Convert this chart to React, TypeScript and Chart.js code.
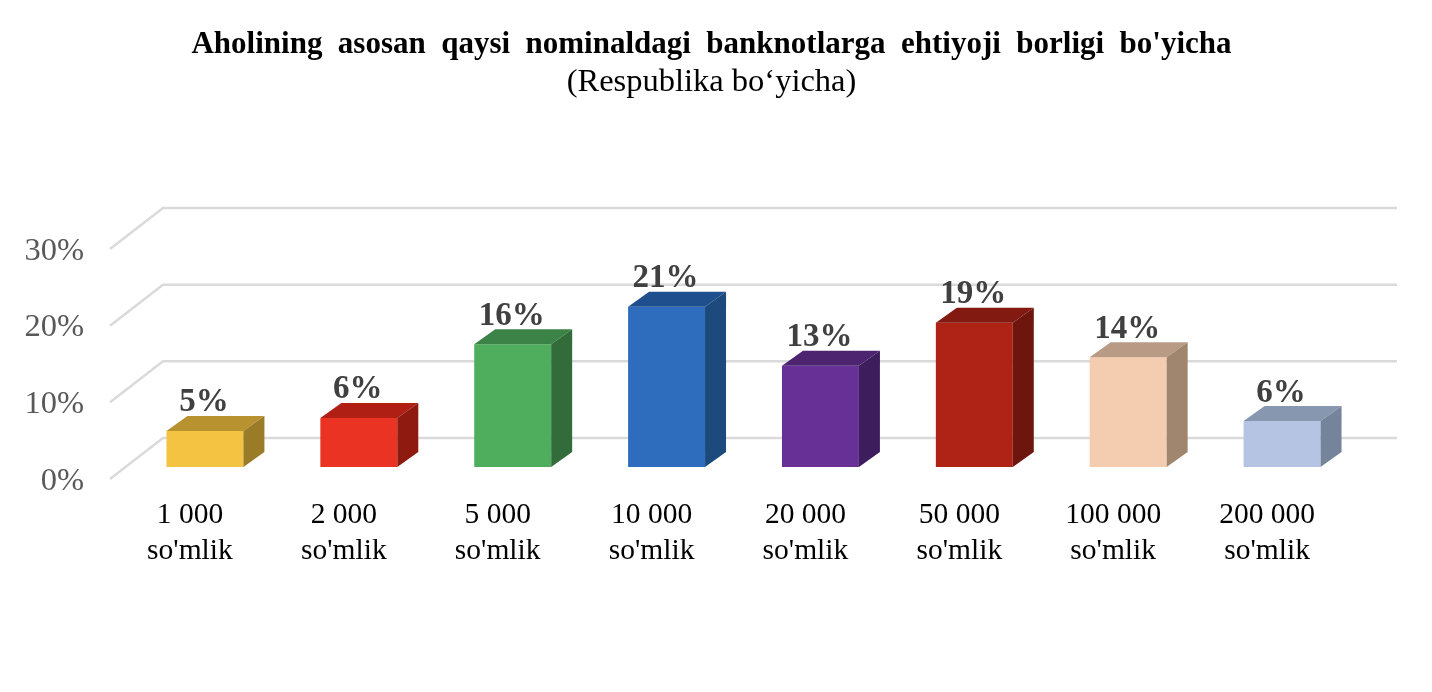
import React, { useEffect, useRef } from "react";
import { Chart, registerables } from "chart.js";

Chart.register(...registerables);

const titleText = "Aholining asosan qaysi nominaldagi banknotlarga ehtiyoji borligi bo'yicha";
const subtitleText = "(Respublika bo‘yicha)";
const categories = [
  ["1 000", "so'mlik"],
  ["2 000", "so'mlik"],
  ["5 000", "so'mlik"],
  ["10 000", "so'mlik"],
  ["20 000", "so'mlik"],
  ["50 000", "so'mlik"],
  ["100 000", "so'mlik"],
  ["200 000", "so'mlik"],
];
const values = [4.7, 6.4, 16.0, 20.9, 13.2, 18.8, 14.3, 6.0];
const frontColors = ["#F5C342", "#EA3323", "#4FAE5D", "#2E6DBD", "#663096", "#AF2317", "#F4CCAF", "#B4C4E2"];
const topColors = ["#B8922E", "#AF1F13", "#3B8346", "#1F4F8C", "#4C2470", "#831A11", "#B99A84", "#8897B0"];
const sideColors = ["#9A7B27", "#8F1A10", "#316C3A", "#1C4A7C", "#3E1D5C", "#6E150E", "#A0856F", "#76849B"];

const SERIF = "'Liberation Serif', 'Times New Roman', serif";
const DEPTH_X = 21;
const DEPTH_Y = 15;

const wallPlugin = {
  id: "wall",
  afterLayout(chart: any) {
    const block = chart.titleBlock;
    if (block && !block.__spaced) {
      const original = block.draw;
      block.draw = function (...args: any[]) {
        chart.ctx.wordSpacing = "7.7px";
        original.apply(this, args);
        chart.ctx.wordSpacing = "0px";
      };
      block.__spaced = true;
    }
  },
  beforeDatasetsDraw(chart: any) {
    const { ctx, chartArea } = chart;
    const y = chart.scales.y;
    ctx.save();
    ctx.strokeStyle = "#DADADA";
    ctx.lineWidth = 2.5;
    ctx.lineJoin = "round";
    y.ticks.forEach((t: any) => {
      const p = y.getPixelForValue(t.value);
      ctx.beginPath();
      ctx.moveTo(chartArea.left - 18, p + 12);
      ctx.lineTo(chartArea.left + 35, p - 29);
      ctx.lineTo(chartArea.right + 38, p - 29);
      ctx.stroke();
    });
    ctx.restore();
  },
};

const bar3dPlugin = {
  id: "bar3d",
  afterDatasetsDraw(chart: any) {
    const { ctx } = chart;
    const meta = chart.getDatasetMeta(0);
    ctx.save();
    meta.data.forEach((el: any, i: number) => {
      const { x, y, base, width } = el.getProps(["x", "y", "base", "width"], true);
      const l = x - width / 2;
      const r = x + width / 2;
      ctx.fillStyle = topColors[i];
      ctx.beginPath();
      ctx.moveTo(l, y);
      ctx.lineTo(l + DEPTH_X, y - DEPTH_Y);
      ctx.lineTo(r + DEPTH_X, y - DEPTH_Y);
      ctx.lineTo(r, y);
      ctx.closePath();
      ctx.fill();
      ctx.fillStyle = sideColors[i];
      ctx.beginPath();
      ctx.moveTo(r, y);
      ctx.lineTo(r + DEPTH_X, y - DEPTH_Y);
      ctx.lineTo(r + DEPTH_X, base - DEPTH_Y);
      ctx.lineTo(r, base);
      ctx.closePath();
      ctx.fill();
      ctx.fillStyle = "#404040";
      ctx.font = `bold 33px ${SERIF}`;
      ctx.textAlign = "center";
      ctx.textBaseline = "middle";
      ctx.fillText(`${Math.round(values[i])}%`, x - 1, y - 28);
    });
    ctx.restore();
  },
};

export default function App() {
  const ref = useRef<HTMLCanvasElement>(null);
  useEffect(() => {
    document.body.style.margin = "0";
    const chart = new Chart(ref.current as HTMLCanvasElement, {
      type: "bar",
      data: {
        labels: categories,
        datasets: [
          {
            data: values,
            backgroundColor: frontColors,
            borderWidth: 0,
            barPercentage: 0.5,
            categoryPercentage: 1,
          },
        ],
      },
      options: {
        responsive: false,
        animation: false,
        layout: { padding: { left: 0, right: 9, top: 0, bottom: 0 } },
        plugins: {
          legend: { display: false },
          tooltip: { enabled: false },
          title: {
            display: true,
            text: titleText,
            color: "#000000",
            font: { family: SERIF, size: 31, weight: "bold", lineHeight: 1.2 },
            padding: { top: 26, bottom: 0 },
          },
          subtitle: {
            display: true,
            text: subtitleText,
            color: "#000000",
            font: { family: SERIF, size: 32.5, weight: "normal", lineHeight: 1.2 },
            padding: { top: 0, bottom: 134.8 },
          },
        },
        scales: {
          x: {
            border: { display: false },
            grid: { display: false, drawTicks: false },
            ticks: {
              color: "#000000",
              font: { family: SERIF, size: 29.5, lineHeight: 1.2 },
              padding: 31,
              labelOffset: -15,
              maxRotation: 0,
              minRotation: 0,
              autoSkip: false,
            },
            afterFit(scale: any) {
              scale.height = 225;
            },
          },
          y: {
            min: 0,
            max: 30,
            border: { display: false },
            grid: { display: false, drawTicks: false },
            ticks: {
              stepSize: 10,
              color: "#595959",
              font: { family: SERIF, size: 32.5 },
              padding: 44,
              labelOffset: 14,
              callback: (v: any) => `${v}%`,
            },
            afterFit(scale: any) {
              scale.width = 128;
            },
          },
          rightGutter: {
            type: "linear",
            position: "right",
            display: true,
            border: { display: false },
            grid: { display: false, drawTicks: false },
            ticks: { display: false },
            afterFit(scale: any) {
              scale.width = 64;
            },
          },
        },
      },
      plugins: [wallPlugin, bar3dPlugin],
    } as any);
    return () => chart.destroy();
  }, []);
  return (
    <div style={{ width: 1432, height: 692 }}>
      <canvas ref={ref} width={1432} height={692} style={{ display: "block" }} />
    </div>
  );
}
